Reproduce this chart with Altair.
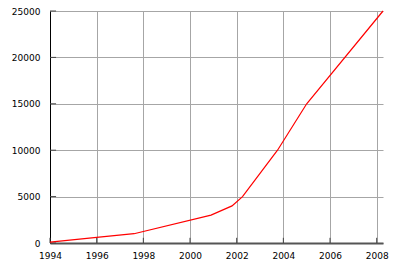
import altair as alt
import pandas as pd

years = [1994.0, 1996.0, 1997.6, 2000.9, 2001.8, 2002.25, 2003.75, 2005.0, 2008.27]
values = [100, 600, 1000, 3000, 4000, 5000, 10000, 15000, 25000]
x_ticks = [1994, 1996, 1998, 2000, 2002, 2004, 2006, 2008]
y_ticks = [0, 5000, 10000, 15000, 20000, 25000]

df = pd.DataFrame({"year": years, "value": values})
xt = pd.DataFrame({"t": x_ticks, "y0": 0, "y1": 560})
yt = pd.DataFrame({"t": y_ticks, "x0": 1994, "x1": 1994.26})

xs = alt.Scale(domain=[1994, 2008.27], nice=False, zero=False)
ys = alt.Scale(domain=[0, 25000], nice=False)

font = "DejaVu Sans"
xaxis = alt.Axis(values=x_ticks, format="d", grid=True, gridColor="#a6a6a6", gridWidth=1,
                 domainColor="#555555", domainWidth=2, ticks=False, labelPadding=8,
                 labelFont=font, labelFontSize=9, labelColor="#000000", title=None,
                 labelFlush=False)
yaxis = alt.Axis(values=y_ticks, format="d", grid=True, gridColor="#a6a6a6", gridWidth=1,
                 domainColor="#000000", domainWidth=1, ticks=False, labelPadding=10,
                 labelFont=font, labelFontSize=9, labelColor="#000000", title=None,
                 labelFlush=False)

line = alt.Chart(df).mark_line(color="#ff0000", strokeWidth=1.2).encode(
    x=alt.X("year:Q", scale=xs, axis=xaxis),
    y=alt.Y("value:Q", scale=ys, axis=yaxis),
)

xtick = alt.Chart(xt).mark_rule(color="#444444", strokeWidth=1).encode(
    x=alt.X("t:Q", scale=xs), y=alt.Y("y0:Q", scale=ys), y2="y1:Q")
ytick = alt.Chart(yt).mark_rule(color="#444444", strokeWidth=1).encode(
    y=alt.Y("t:Q", scale=ys), x=alt.X("x0:Q", scale=xs), x2="x1:Q")

chart = alt.layer(xtick, ytick, line).properties(
    width=333, height=232,
    autosize=alt.AutoSizeParams(type="none"),
    padding={"left": 50, "top": 11, "right": 17, "bottom": 24},
    background="#ffffff",
).configure_view(stroke=None)

chart.save("out.html", embed_options={"renderer": "svg", "actions": False})
